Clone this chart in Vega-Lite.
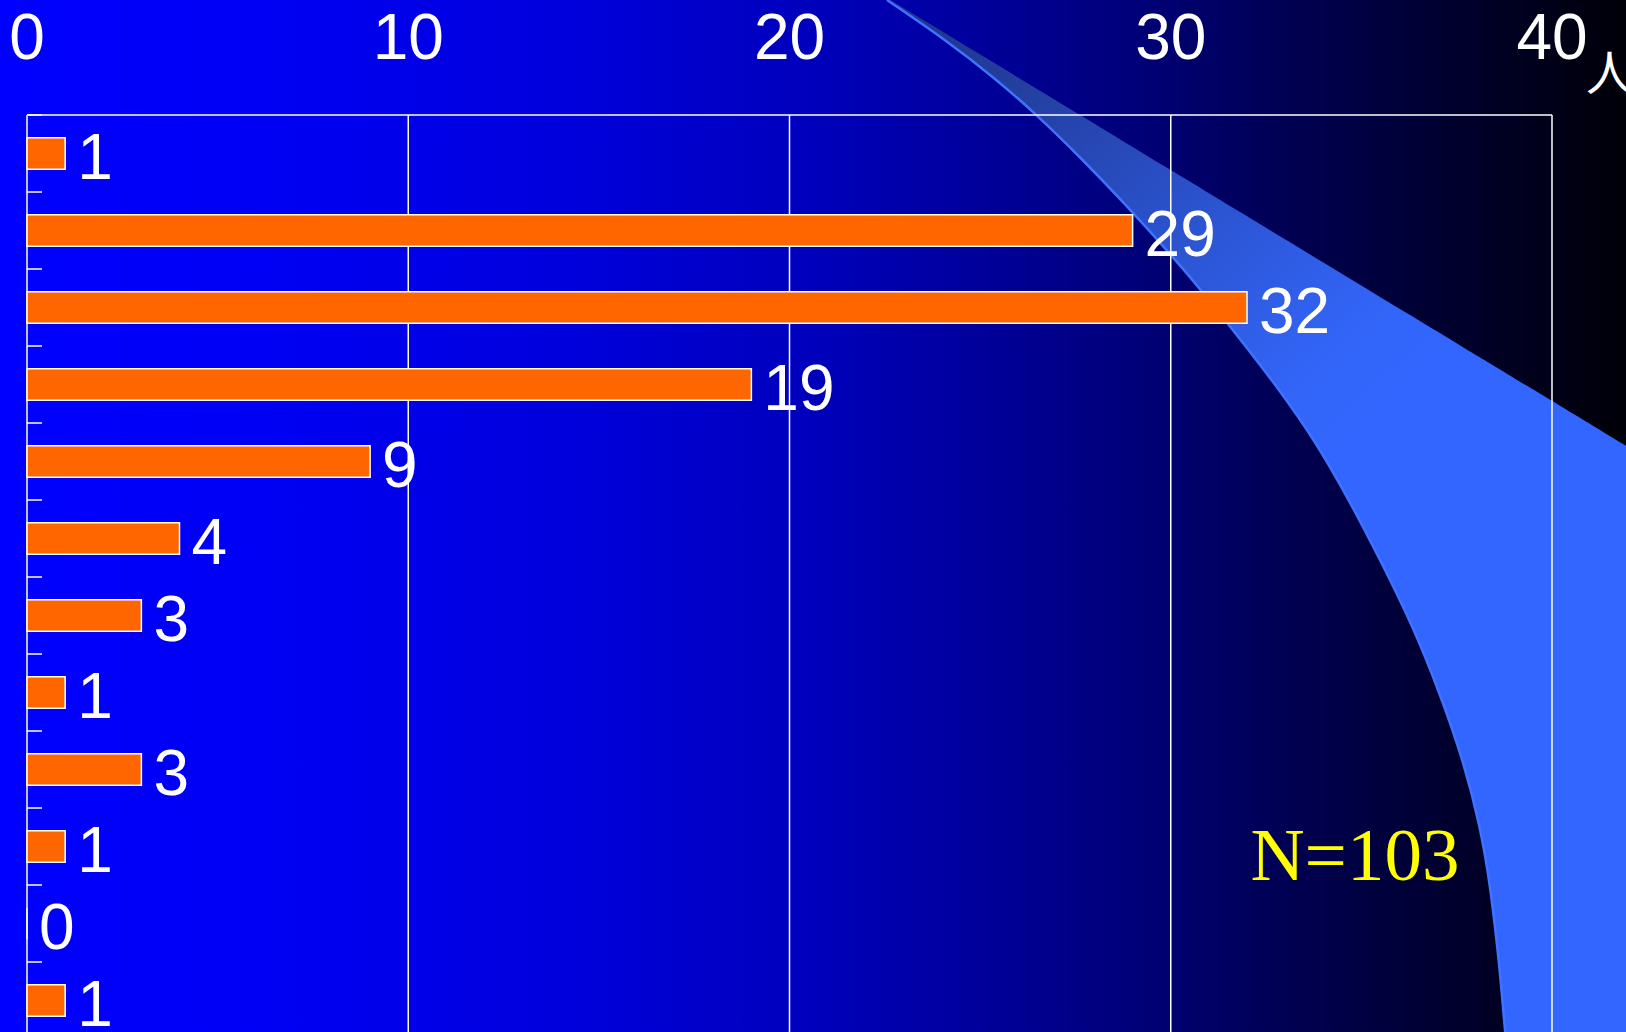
{
  "$schema": "https://vega.github.io/schema/vega-lite/v6.json",
  "width": 1626,
  "height": 1039,
  "autosize": "none",
  "padding": 0,
  "background": "#000040",
  "config": {
    "view": {
      "stroke": null,
      "fill": {
        "gradient": "linear", "x1": 0, "y1": 0, "x2": 1, "y2": 0,
        "stops": [
          {"offset": 0, "color": "#0000FF"},
          {"offset": 0.15, "color": "#0000F6"},
          {"offset": 0.35, "color": "#0000DC"},
          {"offset": 0.5, "color": "#0000BC"},
          {"offset": 0.6, "color": "#00009C"},
          {"offset": 0.7, "color": "#000078"},
          {"offset": 0.8, "color": "#000050"},
          {"offset": 0.9, "color": "#00002C"},
          {"offset": 1, "color": "#000008"}
        ]
      }
    }
  },
  "datasets": {
    "counts": [
      {"group": "1", "count": 1},
      {"group": "2", "count": 29},
      {"group": "3", "count": 32},
      {"group": "4", "count": 19},
      {"group": "5", "count": 9},
      {"group": "6", "count": 4},
      {"group": "7", "count": 3},
      {"group": "8", "count": 1},
      {"group": "9", "count": 3},
      {"group": "10", "count": 1},
      {"group": "11", "count": 0},
      {"group": "12", "count": 1}
    ],
    "shape": [
      {"x": 22.556, "top": -1.5195, "bottom": -1.4935},
      {"x": 24.130, "top": -1.0475, "bottom": -0.9636},
      {"x": 25.441, "top": -0.6542, "bottom": -0.4571},
      {"x": 26.490, "top": -0.3395, "bottom": 0},
      {"x": 27.620, "top": 0.0012, "bottom": 0.5455},
      {"x": 28.756, "top": 0.3418, "bottom": 1.1299},
      {"x": 29.980, "top": 0.7091, "bottom": 1.7974},
      {"x": 30.943, "top": 0.9974, "bottom": 2.3597},
      {"x": 31.992, "top": 1.3117, "bottom": 3.0195},
      {"x": 32.866, "top": 1.5753, "bottom": 3.5818},
      {"x": 33.739, "top": 1.8377, "bottom": 4.1961},
      {"x": 34.615, "top": 2.1000, "bottom": 4.9416},
      {"x": 35.489, "top": 2.3623, "bottom": 5.7714},
      {"x": 36.362, "top": 2.6234, "bottom": 6.6494},
      {"x": 37.062, "top": 2.8338, "bottom": 7.5156},
      {"x": 37.674, "top": 3.0169, "bottom": 8.3831},
      {"x": 38.111, "top": 3.1481, "bottom": 9.2286},
      {"x": 38.374, "top": 3.2260, "bottom": 9.9688},
      {"x": 38.636, "top": 3.3052, "bottom": 11.1013},
      {"x": 38.767, "top": 3.3442, "bottom": 11.9039},
      {"x": 38.807, "top": 3.3558, "bottom": 12.0779},
      {"x": 41.941, "top": 4.2961, "bottom": 12.0779},
      {"x": 42.308, "top": 4.4065, "bottom": 12.0779}
    ],
    "grid": [
      {"x": 0, "label": "0"}, {"x": 10, "label": "10"}, {"x": 20, "label": "20"}, {"x": 30, "label": "30"}, {"x": 40, "label": "40"}
    ]
  },
  "resolve": {"scale": {"y": "independent"}},
  "layer": [
    {
      "layer": [
        {
          "data": {"name": "shape"},
          "mark": {
            "type": "area", "orient": "vertical", "interpolate": "basis",
            "color": {
              "gradient": "linear", "x1": 0, "y1": 0, "x2": 0.4, "y2": 0.6,
              "stops": [
                {"offset": 0, "color": "#1E3388"},
                {"offset": 0.25, "color": "#2340A2"},
                {"offset": 0.55, "color": "#2B53CF"},
                {"offset": 0.85, "color": "#3265F8"},
                {"offset": 1, "color": "#3366FF"}
              ]
            }
          },
          "encoding": {
            "x": {"field": "x", "type": "quantitative", "scale": {"domain": [-0.7082, 41.941], "nice": false, "zero": false}, "axis": null},
            "y": {"field": "top", "type": "quantitative", "scale": {"domain": [-1.4935, 12], "nice": false, "zero": false, "reverse": true}, "axis": null},
            "y2": {"field": "bottom"}
          }
        },
        {
          "data": {"name": "shape"},
          "transform": [{"filter": "datum.x < 39"}],
          "mark": {"type": "line", "interpolate": "basis", "color": "#3F72FF", "strokeWidth": 2.5},
          "encoding": {
            "x": {"field": "x", "type": "quantitative", "scale": {"domain": [-0.7082, 41.941], "nice": false, "zero": false}, "axis": null},
            "y": {"field": "bottom", "type": "quantitative", "scale": {"domain": [-1.4935, 12], "nice": false, "zero": false, "reverse": true}, "axis": null}
          }
        },
        {
          "data": {"name": "grid"},
          "mark": {"type": "rule", "color": "white", "strokeWidth": 1.5},
          "encoding": {
            "x": {"field": "x", "type": "quantitative", "scale": {"domain": [-0.7082, 41.941], "nice": false, "zero": false}, "axis": null},
            "y": {"datum": 0, "type": "quantitative", "scale": {"domain": [-1.4935, 12], "nice": false, "zero": false, "reverse": true}, "axis": null},
            "y2": {"datum": 12.1}
          }
        },
        {
          "data": {"values": [{"from": 0, "to": 40}]},
          "mark": {"type": "rule", "color": "white", "strokeWidth": 1.5},
          "encoding": {
            "x": {"field": "from", "type": "quantitative", "scale": {"domain": [-0.7082, 41.941], "nice": false, "zero": false}, "axis": null},
            "x2": {"field": "to"},
            "y": {"datum": 0, "type": "quantitative", "scale": {"domain": [-1.4935, 12], "nice": false, "zero": false, "reverse": true}, "axis": null}
          }
        },
        {
          "data": {"name": "grid"},
          "mark": {"type": "text", "align": "center", "baseline": "alphabetic", "font": "Liberation Sans", "fontSize": 64, "color": "white"},
          "encoding": {
            "x": {"field": "x", "type": "quantitative", "scale": {"domain": [-0.7082, 41.941], "nice": false, "zero": false}, "axis": null},
            "y": {"datum": -0.7273, "type": "quantitative", "scale": {"domain": [-1.4935, 12], "nice": false, "zero": false, "reverse": true}, "axis": null},
            "text": {"field": "label"}
          }
        },
        {
          "data": {"values": [{"label": "N=103", "x": 32.09, "y": 9.935}]},
          "mark": {"type": "text", "align": "left", "baseline": "alphabetic", "font": "Liberation Serif", "fontSize": 75, "color": "#FFFF00"},
          "encoding": {
            "x": {"field": "x", "type": "quantitative", "scale": {"domain": [-0.7082, 41.941], "nice": false, "zero": false}, "axis": null},
            "y": {"field": "y", "type": "quantitative", "scale": {"domain": [-1.4935, 12], "nice": false, "zero": false, "reverse": true}, "axis": null},
            "text": {"field": "label"}
          }
        },
        {
          "data": {"values": [{"label": "人", "x": 41.52, "y": -0.33}]},
          "mark": {"type": "text", "align": "center", "baseline": "alphabetic", "font": "Noto Sans CJK JP", "fontSize": 48, "color": "white"},
          "encoding": {
            "x": {"field": "x", "type": "quantitative", "scale": {"domain": [-0.7082, 41.941], "nice": false, "zero": false}, "axis": null},
            "y": {"field": "y", "type": "quantitative", "scale": {"domain": [-1.4935, 12], "nice": false, "zero": false, "reverse": true}, "axis": null},
            "text": {"field": "label"}
          }
        }
      ]
    },
    {
      "data": {"name": "counts"},
      "layer": [
        {
          "mark": {"type": "rule", "color": "white", "strokeWidth": 1.5},
          "encoding": {
            "x": {"datum": 0, "type": "quantitative", "scale": {"domain": [-0.7082, 41.941], "nice": false, "zero": false}, "axis": null},
            "x2": {"datum": 0.3934},
            "y": {
              "field": "group", "type": "nominal", "sort": null, "bandPosition": 0,
              "scale": {"paddingInner": 0, "paddingOuter": 0.7468, "align": 1},
              "axis": null
            }
          }
        },
        {
          "mark": {"type": "bar", "color": "#FF6600", "stroke": "white", "strokeWidth": 1.5, "height": {"band": 0.41}},
          "encoding": {
            "x": {"field": "count", "type": "quantitative", "scale": {"domain": [-0.7082, 41.941], "nice": false, "zero": false}, "axis": null},
            "x2": {"datum": 0},
            "y": {
              "field": "group", "type": "nominal", "sort": null,
              "scale": {"paddingInner": 0, "paddingOuter": 0.7468, "align": 1},
              "axis": null
            }
          }
        },
        {
          "mark": {"type": "text", "align": "left", "baseline": "alphabetic", "dx": 12, "dy": 25.5, "font": "Liberation Sans", "fontSize": 64, "color": "white"},
          "encoding": {
            "x": {"field": "count", "type": "quantitative", "scale": {"domain": [-0.7082, 41.941], "nice": false, "zero": false}, "axis": null},
            "y": {"field": "group", "type": "nominal", "sort": null, "axis": null},
            "text": {"field": "count", "type": "quantitative"}
          }
        }
      ]
    }
  ]
}
